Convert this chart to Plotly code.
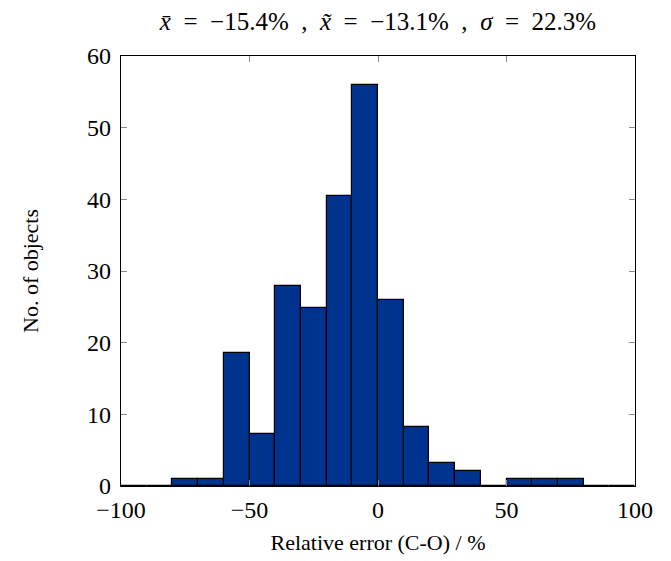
import plotly.graph_objects as go

bin_left = [-100, -90, -80, -70, -60, -50, -40, -30, -20, -10,
            0, 10, 20, 30, 40, 50, 60, 70, 80, 90]
bin_width = 10
counts = [0, 0, 1, 1, 18.6, 7.2, 27.9, 24.9, 40.4, 56.0,
          26.0, 8.3, 3.2, 2.1, 0, 1, 1, 1, 0, 0]
x_ticks = [-100, -50, 0, 50, 100]
y_ticks = [0, 10, 20, 30, 40, 50, 60]

centers = [b + bin_width / 2 for b in bin_left]

FONT = "Liberation Serif"
SP = "\u2002"
title_text = (f"<i>x̄</i>{SP}={SP}−15.4%{SP},{SP}<i>x̃</i>{SP}={SP}−13.1%"
              f"{SP},{SP}<i>σ</i>{SP}={SP}22.3%")

fig = go.Figure(go.Bar(
    x=centers, y=counts, width=[bin_width] * len(centers),
    marker=dict(color="rgb(0,51,141)", line=dict(color="black", width=1.2)),
    showlegend=False,
))

fig.update_layout(
    width=671, height=561,
    margin=dict(l=121, r=36, t=56, b=75),
    paper_bgcolor="white", plot_bgcolor="white",
    font=dict(family=FONT, size=22, color="black"),
    title=dict(
        text=title_text,
        x=0.5, xref="paper", xanchor="center",
        y=0.962, yref="container", yanchor="middle",
        font=dict(family=FONT, size=25),
    ),
    bargap=0,
)
fig.update_xaxes(
    range=[-100, 100], tickvals=x_ticks, ticks="inside", ticklen=6,
    tickcolor="#888", tickwidth=1, showline=True, linecolor="black",
    linewidth=1.2, mirror="ticks", showgrid=False, zeroline=False,
    tickfont=dict(size=24), ticklabelstandoff=2,
    title=dict(text="Relative error (C-O) / %", font=dict(size=22), standoff=12),
)
fig.update_yaxes(
    range=[0, 60], tickvals=y_ticks, ticks="inside", ticklen=6,
    tickcolor="#888", tickwidth=1, showline=True, linecolor="black",
    linewidth=1.2, mirror="ticks", showgrid=False, zeroline=False,
    tickfont=dict(size=24), ticklabelstandoff=4,
    title=dict(text="No. of objects", font=dict(size=22), standoff=42),
)

fig.write_html("out.html")
